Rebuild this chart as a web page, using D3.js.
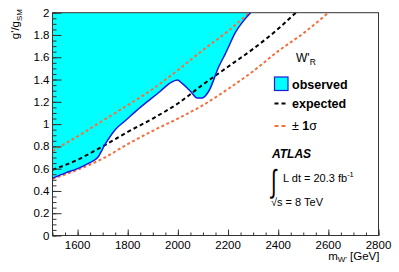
<!DOCTYPE html>
<html>
<head>
<meta charset="utf-8">
<script src="https://cdn.jsdelivr.net/npm/d3@7"></script>
<style>
  body { margin: 0; background: #fff; }
  text { font-family: "Liberation Sans", Arial, sans-serif; }
</style>
</head>
<body>
<script>
const width = 399;
const height = 272;

// limits in g'/g_SM vs m_W' [GeV]
const observed = [
  [1500, 0.515], [1550, 0.56], [1600, 0.60], [1645, 0.65], [1680, 0.70],
  [1710, 0.82], [1750, 0.95], [1790, 1.03], [1850, 1.15], [1930, 1.295],
  [1970, 1.37], [1998, 1.395], [2017, 1.365], [2050, 1.295], [2077, 1.235],
  [2097, 1.235], [2123, 1.295], [2163, 1.515], [2190, 1.635], [2230, 1.825],
  [2290, 2.0],
];
const expected = [
  [1500, 0.59], [1600, 0.68], [1700, 0.80], [1800, 0.93], [1900, 1.05],
  [2000, 1.185], [2100, 1.355], [2200, 1.515], [2300, 1.675], [2400, 1.855],
  [2470, 2.0],
];
const sigmaUp = [
  [1500, 0.76], [1600, 0.89], [1700, 1.03], [1800, 1.17], [1900, 1.315],
  [2000, 1.485], [2100, 1.665], [2200, 1.835], [2285, 2.0],
];
const sigmaDown = [
  [1500, 0.51], [1600, 0.59], [1700, 0.69], [1800, 0.82], [1900, 0.94],
  [2000, 1.05], [2100, 1.17], [2200, 1.315], [2300, 1.475], [2400, 1.655],
  [2500, 1.815], [2600, 2.0],
];
const xTicks = [1600, 1800, 2000, 2200, 2400, 2600, 2800];
const yTicks = [0, 0.2, 0.4, 0.6, 0.8, 1, 1.2, 1.4, 1.6, 1.8, 2];

const plotLeft = 52.5, plotRight = 378.5, plotTop = 12.7, plotBottom = 235.5;

const x = d3.scaleLinear([1500, 2800], [plotLeft, plotRight]);
const y = d3.scaleLinear([0, 2], [plotBottom, plotTop]);

const svg = d3
  .select("body")
  .append("svg")
  .attr("width", width)
  .attr("height", height);

svg
  .append("clipPath")
  .attr("id", "plot")
  .append("rect")
  .attr("x", plotLeft)
  .attr("y", plotTop)
  .attr("width", plotRight - plotLeft)
  .attr("height", plotBottom - plotTop);

const g = svg.append("g").attr("clip-path", "url(#plot)");

// excluded region above the observed limit
g.append("path")
  .datum(observed)
  .attr("fill", "#00ffff")
  .attr(
    "d",
    d3
      .area()
      .x((d) => x(d[0]))
      .y0(y(2))
      .y1((d) => y(d[1]))
      .curve(d3.curveMonotoneX)
  );

const line = d3
  .line()
  .x((d) => x(d[0]))
  .y((d) => y(d[1]))
  .curve(d3.curveMonotoneX);

g.append("path")
  .datum(sigmaUp)
  .attr("fill", "none")
  .attr("stroke", "#f5703f")
  .attr("stroke-width", 2)
  .attr("stroke-dasharray", "3,2.5")
  .attr("d", line);

g.append("path")
  .datum(sigmaDown)
  .attr("fill", "none")
  .attr("stroke", "#f5703f")
  .attr("stroke-width", 2)
  .attr("stroke-dasharray", "3,2.5")
  .attr("d", line);

g.append("path")
  .datum(expected)
  .attr("fill", "none")
  .attr("stroke", "#000")
  .attr("stroke-width", 2)
  .attr("stroke-dasharray", "4,3")
  .attr("d", line);

g.append("path")
  .datum(observed)
  .attr("fill", "none")
  .attr("stroke", "#1a1adc")
  .attr("stroke-width", 1.5)
  .attr("d", line);

// frame
svg
  .append("rect")
  .attr("x", plotLeft)
  .attr("y", plotTop)
  .attr("width", plotRight - plotLeft)
  .attr("height", plotBottom - plotTop)
  .attr("fill", "none")
  .attr("stroke", "#333")
  .attr("stroke-width", 1);

// axes, ticks pointing inward
const xAxis = svg.append("g").attr("transform", `translate(0,${plotBottom})`);
xAxis
  .call(d3.axisTop(x).ticks(26).tickSize(3).tickFormat(""))
  .call((a) => a.select(".domain").remove());
xAxis
  .append("g")
  .call(d3.axisTop(x).tickValues(xTicks).tickSize(6).tickFormat(""))
  .call((a) => a.select(".domain").remove());
xAxis
  .selectAll(".xlab")
  .data(xTicks)
  .join("text")
  .attr("class", "xlab")
  .attr("x", (d) => x(d))
  .attr("y", 13)
  .attr("text-anchor", "middle")
  .attr("font-size", 11.5)
  .attr("fill", "#000")
  .text((d) => d);

const yAxis = svg.append("g").attr("transform", `translate(${plotLeft},0)`);
yAxis
  .call(d3.axisRight(y).ticks(40).tickSize(4).tickFormat(""))
  .call((a) => a.select(".domain").remove());
yAxis
  .append("g")
  .call(d3.axisRight(y).tickValues(yTicks).tickSize(9).tickFormat(""))
  .call((a) => a.select(".domain").remove());
yAxis
  .selectAll(".ylab")
  .data(yTicks)
  .join("text")
  .attr("class", "ylab")
  .attr("x", -3)
  .attr("y", (d) => y(d) + 4)
  .attr("text-anchor", "end")
  .attr("font-size", 11.5)
  .attr("fill", "#000")
  .text((d) => d3.format("~g")(d));

svg.selectAll(".tick line").attr("stroke", "#333");

// axis titles
const xt = svg
  .append("text")
  .attr("x", plotRight + 1)
  .attr("y", 259.5)
  .attr("text-anchor", "end")
  .attr("font-size", 11.5);
xt.append("tspan").text("m");
xt.append("tspan").attr("font-size", 8).attr("dy", 2.5).text("W'");
xt.append("tspan").attr("dy", -2.5).text(" [GeV]");

const yt = svg
  .append("text")
  .attr("transform", "translate(19,9) rotate(-90)")
  .attr("text-anchor", "end")
  .attr("font-size", 11.5);
yt.append("tspan").text("g'/g");
yt.append("tspan").attr("font-size", 8).attr("dy", 2.5).text("SM");

// legend
const leg = svg.append("g");
const wr = leg
  .append("text")
  .attr("x", 296)
  .attr("y", 62)
  .attr("font-size", 12);
wr.append("tspan").text("W'");
wr.append("tspan").attr("font-size", 8.5).attr("dy", 3).text("R");

leg
  .append("rect")
  .attr("x", 274.5)
  .attr("y", 77)
  .attr("width", 13.5)
  .attr("height", 13.5)
  .attr("fill", "#00ffff")
  .attr("stroke", "#1a1adc")
  .attr("stroke-width", 1.2);
leg
  .append("text")
  .attr("x", 292)
  .attr("y", 89)
  .attr("font-size", 12.5)
  .attr("font-weight", "bold")
  .text("observed");

leg
  .append("line")
  .attr("x1", 274.5)
  .attr("x2", 288)
  .attr("y1", 103.5)
  .attr("y2", 103.5)
  .attr("stroke", "#000")
  .attr("stroke-width", 2)
  .attr("stroke-dasharray", "4,3");
leg
  .append("text")
  .attr("x", 292)
  .attr("y", 108)
  .attr("font-size", 12.5)
  .attr("font-weight", "bold")
  .text("expected");

leg
  .append("line")
  .attr("x1", 274.5)
  .attr("x2", 288)
  .attr("y1", 126)
  .attr("y2", 126)
  .attr("stroke", "#f5703f")
  .attr("stroke-width", 2)
  .attr("stroke-dasharray", "4,3");
const sig = leg
  .append("text")
  .attr("x", 292)
  .attr("y", 130)
  .attr("font-size", 12.5);
sig.append("tspan").text("± ");
sig.append("tspan").attr("font-weight", "bold").text("1");
sig.append("tspan").text("σ");

leg
  .append("text")
  .attr("x", 272)
  .attr("y", 158)
  .attr("font-size", 12)
  .attr("font-weight", "bold")
  .attr("font-style", "italic")
  .text("ATLAS");

leg
  .append("text")
  .attr("transform", "translate(271,192) scale(1,1.6)")
  .attr("font-size", 20)
  .attr("font-family", "DejaVu Sans")
  .text("∫");
const lumi = leg
  .append("text")
  .attr("x", 283)
  .attr("y", 182)
  .attr("font-size", 11);
lumi.append("tspan").text("L dt = 20.3 fb");
lumi.append("tspan").attr("font-size", 7.5).attr("dy", -5).text("-1");

leg
  .append("text")
  .attr("x", 271)
  .attr("y", 206)
  .attr("font-size", 11)
  .text("√s = 8 TeV");
</script>
</body>
</html>
